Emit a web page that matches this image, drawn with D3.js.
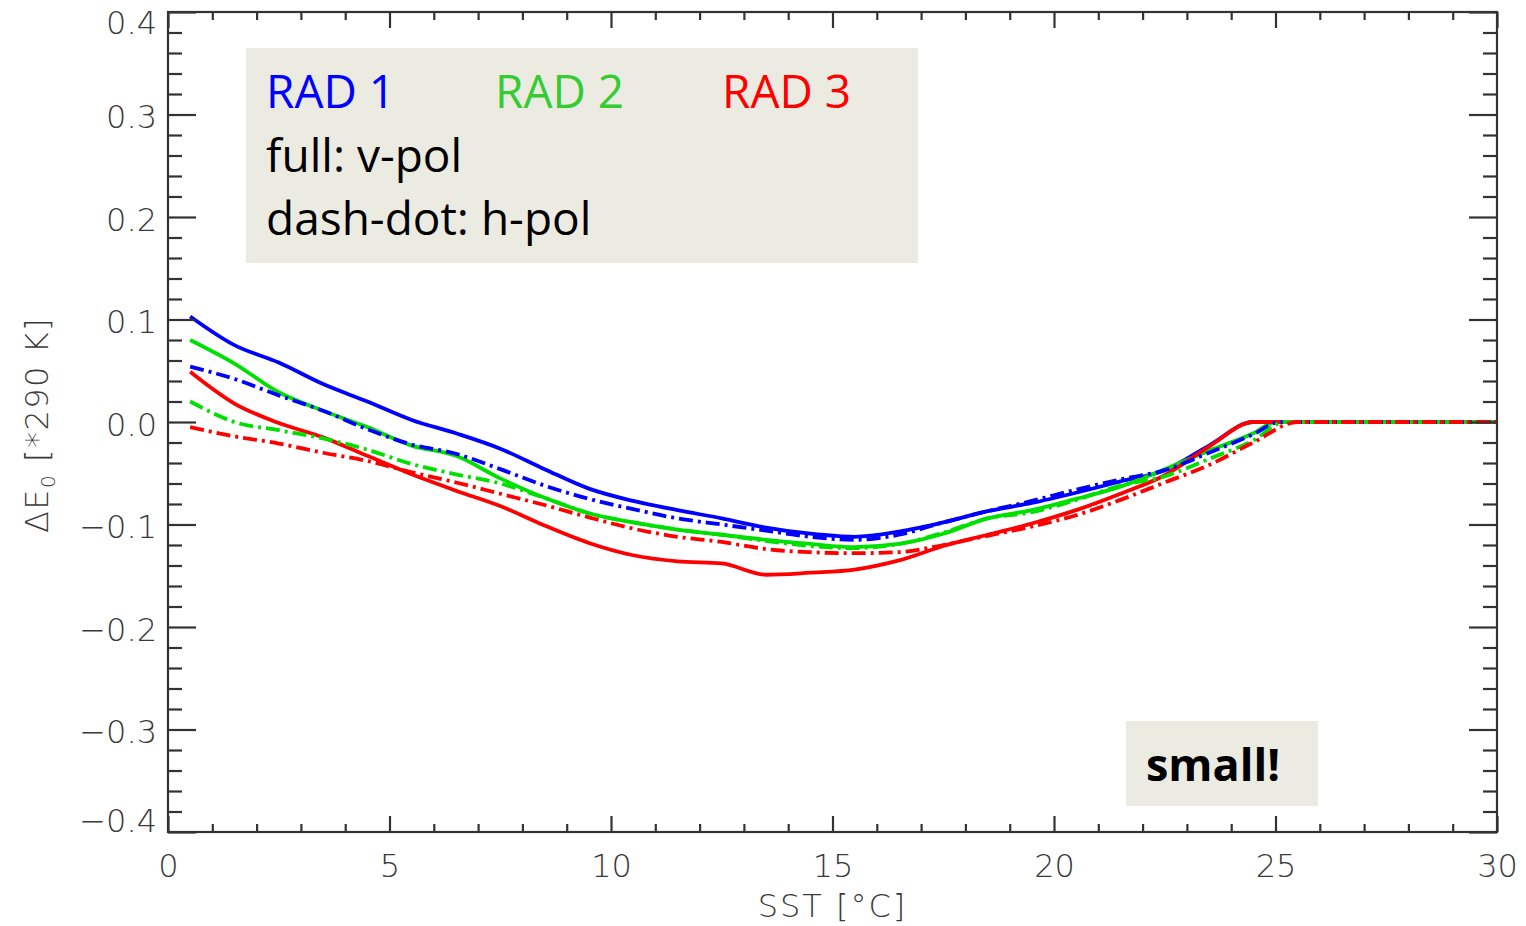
<!DOCTYPE html>
<html>
<head>
<meta charset="utf-8">
<script src="https://cdn.jsdelivr.net/npm/d3@7"></script>
<style>
  html, body { margin: 0; padding: 0; background: #ffffff; }
  svg { display: block; }
</style>
</head>
<body>
<svg id="chart" width="1526" height="926"></svg>
<script>
// ---- data ----
const sst = [0.5,1.5,2.5,3.5,4.5,5.5,6.5,7.5,8.5,9.5,10.5,11.5,12.5,13.5,14.5,15.5,16.5,17.5,18.5,19.5,20.5,21.5,22.5,23.5,24.5];

const rad1V = [0.103,0.075,0.058,0.037,0.020,0.002,-0.011,-0.026,-0.046,-0.065,-0.077,-0.086,-0.094,-0.103,-0.109,-0.112,-0.107,-0.098,-0.087,-0.079,-0.069,-0.058,-0.047,-0.023,0.000];
const rad2V = [0.080,0.057,0.029,0.011,-0.005,-0.023,-0.033,-0.055,-0.074,-0.089,-0.098,-0.105,-0.110,-0.115,-0.119,-0.122,-0.119,-0.109,-0.094,-0.086,-0.075,-0.063,-0.046,-0.028,-0.011];
const rad3V = [0.049,0.018,-0.001,-0.015,-0.033,-0.051,-0.067,-0.082,-0.101,-0.118,-0.130,-0.136,-0.138,-0.149,-0.147,-0.144,-0.135,-0.121,-0.110,-0.099,-0.086,-0.070,-0.052,-0.024,0.000];
const rad1H = [0.054,0.042,0.026,0.011,-0.007,-0.022,-0.031,-0.046,-0.062,-0.075,-0.085,-0.094,-0.100,-0.106,-0.112,-0.115,-0.110,-0.098,-0.087,-0.077,-0.066,-0.056,-0.047,-0.030,-0.012];
const rad2H = [0.020,0.000,-0.008,-0.016,-0.027,-0.041,-0.051,-0.060,-0.074,-0.089,-0.098,-0.105,-0.110,-0.116,-0.121,-0.123,-0.119,-0.108,-0.094,-0.088,-0.076,-0.062,-0.053,-0.036,-0.018];
const rad3H = [-0.005,-0.014,-0.021,-0.030,-0.038,-0.049,-0.059,-0.070,-0.081,-0.093,-0.104,-0.112,-0.117,-0.124,-0.127,-0.128,-0.127,-0.120,-0.111,-0.102,-0.091,-0.076,-0.059,-0.042,-0.020];

// SST at which each curve reaches zero (order: rad1V, rad2V, rad3V, rad1H, rad2H, rad3H)
const zeroSST = [24.5, 25.0, 24.5, 25.1, 25.2, 25.5];
const sstEnd = 30;

const seriesNames = ["RAD 1 v", "RAD 2 v", "RAD 3 v", "RAD 1 h", "RAD 2 h", "RAD 3 h"];
const seriesValues = [rad1V, rad2V, rad3V, rad1H, rad2H, rad3H];
const seriesColors = ["#0000ff", "#00e000", "#ff0000", "#0000ff", "#00e000", "#ff0000"];
const seriesDash = [null, null, null, "14,5,3,5", "14,5,3,5", "14,5,3,5"];

const xTicksMajor = [0, 5, 10, 15, 20, 25, 30];
const yTicksMajor = [-0.4, -0.3, -0.2, -0.1, 0.0, 0.1, 0.2, 0.3, 0.4];

const legendRads = ["RAD 1", "RAD 2", "RAD 3"];
const legendRadColors = ["#0000ff", "#33cc33", "#ff0000"];
const legendLines = ["full: v-pol", "dash-dot: h-pol"];
const noteText = "small!";

// ---- layout ----
const svg = d3.select("#chart");
const L = 168, R = 1497, T = 12, B = 832;
const x = d3.scaleLinear().domain([0, 30]).range([L, R]);
const y = d3.scaleLinear().domain([-0.4, 0.4]).range([B, T]);

const axisColor = "#333333";
const labelColor = "#3a3a3a";
const tickFont = "'DejaVu Sans', sans-serif";
const tickWeight = 200;

// legend box
svg.append("rect").attr("x", 246).attr("y", 48).attr("width", 672).attr("height", 215).attr("fill", "#ecebe2");
// note box
svg.append("rect").attr("x", 1126).attr("y", 721).attr("width", 192).attr("height", 85).attr("fill", "#ecebe2");

// ---- curves ----
const line = d3.line().x(d => x(d[0])).y(d => y(d[1])).curve(d3.curveMonotoneX);
const g = svg.append("g");
seriesValues.forEach((vals, i) => {
  const pts = sst.map((s, k) => [s, vals[k]]);
  if (zeroSST[i] > sst[sst.length - 1]) pts.push([zeroSST[i], 0]);
  pts.push([sstEnd, 0]);
  g.append("path")
    .attr("d", line(pts))
    .attr("fill", "none")
    .attr("stroke", seriesColors[i])
    .attr("stroke-width", 3.8)
    .attr("stroke-linejoin", "round")
    .attr("stroke-dasharray", seriesDash[i]);
});

// ---- axes ----
function styleAxis(sel) {
  sel.select(".domain").remove();
  sel.selectAll(".tick line").attr("stroke", axisColor).attr("stroke-width", 2.2);
}
const xMinor = d3.range(0, 31, 1).filter(v => v % 5 !== 0);
const yMinor = d3.range(-40, 41, 2).filter(v => v % 10 !== 0).map(v => v / 100);

function styleLabels(s) {
  s.selectAll("text").attr("font-family", tickFont).attr("font-weight", tickWeight)
    .attr("font-size", 32).attr("fill", labelColor);
}

// bottom
svg.append("g").attr("transform", `translate(0,${B})`)
  .call(d3.axisBottom(x).tickValues(xTicksMajor).tickSize(-16).tickFormat(d3.format("d")))
  .call(styleAxis)
  .call(s => s.selectAll("text").attr("y", 45).attr("dy", null))
  .call(styleLabels);
svg.append("g").attr("transform", `translate(0,${B})`)
  .call(d3.axisBottom(x).tickValues(xMinor).tickSize(-8).tickFormat(""))
  .call(styleAxis);
// top
svg.append("g").attr("transform", `translate(0,${T})`)
  .call(d3.axisTop(x).tickValues(xTicksMajor).tickSize(-16).tickFormat(""))
  .call(styleAxis);
svg.append("g").attr("transform", `translate(0,${T})`)
  .call(d3.axisTop(x).tickValues(xMinor).tickSize(-8).tickFormat(""))
  .call(styleAxis);
// left
const yFmt = v => (Math.abs(v) < 1e-9 ? "0.0" : d3.format(".1f")(v).replace("-", "\u2212"));
svg.append("g").attr("transform", `translate(${L},0)`)
  .call(d3.axisLeft(y).tickValues(yTicksMajor).tickSize(-28).tickFormat(yFmt))
  .call(styleAxis)
  .call(s => s.selectAll("text")
    .attr("x", -11).attr("dy", null)
    .attr("y", d => (d > 0.35 ? 21 : d < -0.35 ? -1 : 13)))
  .call(styleLabels);
svg.append("g").attr("transform", `translate(${L},0)`)
  .call(d3.axisLeft(y).tickValues(yMinor).tickSize(-14).tickFormat(""))
  .call(styleAxis);
// right
svg.append("g").attr("transform", `translate(${R},0)`)
  .call(d3.axisRight(y).tickValues(yTicksMajor).tickSize(-28).tickFormat(""))
  .call(styleAxis);
svg.append("g").attr("transform", `translate(${R},0)`)
  .call(d3.axisRight(y).tickValues(yMinor).tickSize(-14).tickFormat(""))
  .call(styleAxis);

// frame
svg.append("rect").attr("x", L).attr("y", T).attr("width", R - L).attr("height", B - T)
  .attr("fill", "none").attr("stroke", axisColor).attr("stroke-width", 2.2);

// axis titles
svg.append("text").attr("x", (L + R) / 2).attr("y", 917).attr("text-anchor", "middle")
  .attr("font-family", tickFont).attr("font-weight", tickWeight).attr("font-size", 32)
  .attr("letter-spacing", 2).attr("fill", labelColor)
  .text("SST [\u00B0C]");
const yt = svg.append("text").attr("transform", "translate(48,425) rotate(-90)")
  .attr("text-anchor", "middle")
  .attr("font-family", tickFont).attr("font-weight", tickWeight).attr("font-size", 32)
  .attr("letter-spacing", 1.5).attr("fill", labelColor);
yt.append("tspan").text("\u0394E");
yt.append("tspan").attr("font-size", 20).attr("dy", 7).text("0");
yt.append("tspan").attr("dy", -7).text(" [*290 K]");

// legend text
const legFont = "'Open Sans', sans-serif";
const radX = [266, 495, 722];
legendRads.forEach((t, i) => {
  svg.append("text").attr("x", radX[i]).attr("y", 108)
    .attr("font-family", legFont).attr("font-size", 46).attr("fill", legendRadColors[i]).text(t);
});
const lineY = [172, 235];
legendLines.forEach((t, i) => {
  svg.append("text").attr("x", 266).attr("y", lineY[i])
    .attr("font-family", legFont).attr("font-size", 46).attr("fill", "#000").text(t);
});
svg.append("text").attr("x", 1146).attr("y", 781)
  .attr("font-family", legFont).attr("font-weight", "bold").attr("font-size", 45).attr("fill", "#000").text(noteText);
</script>
</body>
</html>
